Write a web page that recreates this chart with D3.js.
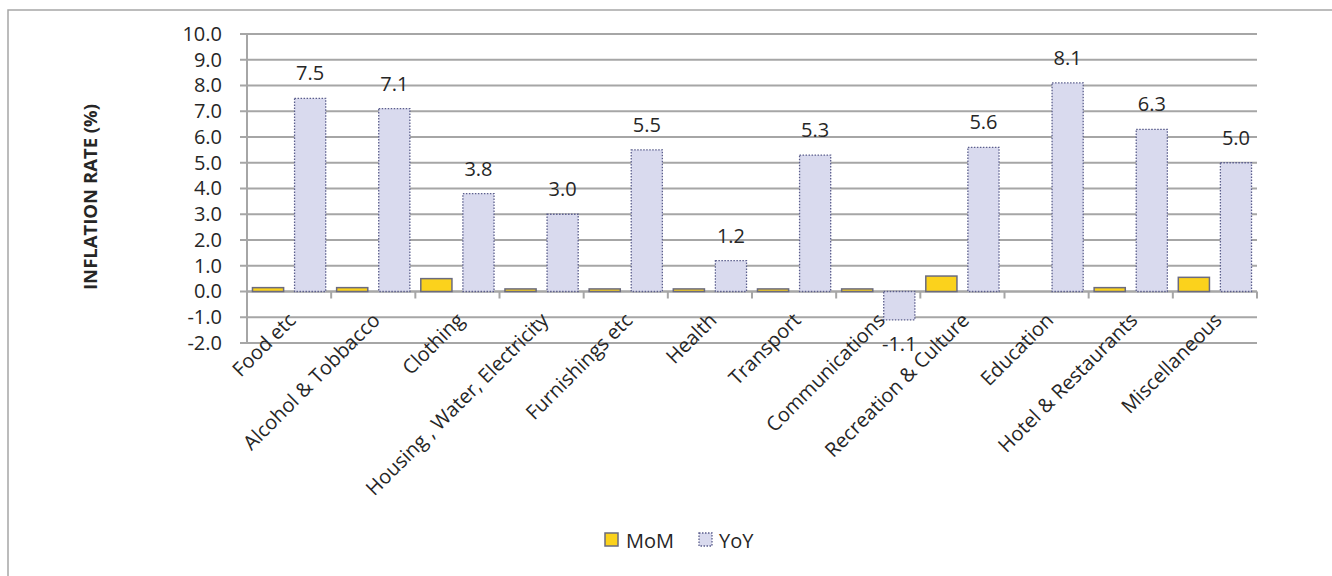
<!DOCTYPE html>
<html>
<head>
<meta charset="utf-8">
<script src="https://cdn.jsdelivr.net/npm/d3@7"></script>
<style>
  html, body { margin: 0; padding: 0; background: #fff; }
  svg { display: block; }
  text { font-family: "Open Sans", "Noto Sans", sans-serif; fill: #262626; }
</style>
</head>
<body>
<svg id="chart" width="1332" height="576"></svg>
<script>
const categories = ["Food etc", "Alcohol & Tobbacco", "Clothing", "Housing , Water, Electricity",
  "Furnishings etc", "Health", "Transport", "Communications", "Recreation & Culture",
  "Education", "Hotel & Restaurants", "Miscellaneous"];
const momValues = [0.15, 0.15, 0.5, 0.1, 0.1, 0.1, 0.1, 0.1, 0.6, 0.0, 0.15, 0.55];
const yoyValues = [7.5, 7.1, 3.8, 3.0, 5.5, 1.2, 5.3, -1.1, 5.6, 8.1, 6.3, 5.0];
const yTicks = [-2, -1, 0, 1, 2, 3, 4, 5, 6, 7, 8, 9, 10];
const seriesNames = ["MoM", "YoY"];

const locale = d3.formatLocale({decimal: ".", thousands: ",", grouping: [3], currency: ["", ""], minus: "-"});
const fmt = locale.format(".1f");

const svg = d3.select("#chart");
const pLeft = 247, pRight = 1257, pTop = 34, pBottom = 343;

// outer frame (left + top visible)
svg.append("path").attr("d", "M8,600 L8,10 L1340,10")
  .attr("fill", "none").attr("stroke", "#a6a6a6").attr("stroke-width", 1.5);

const y = d3.scaleLinear().domain([-2, 10]).range([pBottom, pTop]);
const x = d3.scaleBand().domain(categories).range([pLeft, pRight]).padding(0);
const sub = d3.scaleBand().domain(seriesNames).range([0, x.bandwidth()]).paddingInner(0.26).paddingOuter(0.13);

// gridlines
svg.append("g").selectAll("line").data(yTicks).join("line")
  .attr("x1", pLeft - 7).attr("x2", pRight)
  .attr("y1", d => y(d)).attr("y2", d => y(d))
  .attr("stroke", "#a6a6a6").attr("stroke-width", 2);

// y axis via d3
const yAxis = d3.axisLeft(y).tickValues(yTicks).tickFormat(fmt).tickSize(0).tickPadding(25);
const yg = svg.append("g").attr("transform", `translate(${pLeft},0)`).call(yAxis);
yg.select(".domain").remove();
yg.selectAll("text").style("font-size", "20px").style("font-family", '"Open Sans", sans-serif').attr("fill", "#262626");
svg.append("line").attr("x1", pLeft).attr("x2", pLeft).attr("y1", pTop).attr("y2", pBottom)
  .attr("stroke", "#a6a6a6").attr("stroke-width", 2);

// zero axis + category ticks
const y0 = y(0);
svg.append("line").attr("x1", pLeft).attr("x2", pRight).attr("y1", y0).attr("y2", y0)
  .attr("stroke", "#a6a6a6").attr("stroke-width", 2);
const bounds = categories.map(c => x(c)).concat([pRight]);
svg.append("g").selectAll("line").data(bounds).join("line")
  .attr("x1", d => d).attr("x2", d => d).attr("y1", y0).attr("y2", y0 + 7)
  .attr("stroke", "#a6a6a6").attr("stroke-width", 2);

// bars
const g = svg.append("g");
categories.forEach((c, i) => {
  const m = momValues[i];
  if (m !== 0) {
    g.append("rect")
      .attr("x", x(c) + sub("MoM")).attr("width", sub.bandwidth())
      .attr("y", y(Math.max(0, m))).attr("height", Math.abs(y(m) - y(0)))
      .attr("fill", "#fbd21c").attr("stroke", "#6b6b7e").attr("stroke-width", 1.5);
  }
  const v = yoyValues[i];
  g.append("rect")
    .attr("x", x(c) + sub("YoY")).attr("width", sub.bandwidth())
    .attr("y", y(Math.max(0, v))).attr("height", Math.abs(y(v) - y(0)))
    .attr("fill", "#d9daee").attr("stroke", "#5b5e8c").attr("stroke-width", 1.3)
    .attr("stroke-dasharray", "1.5,1.5");
  g.append("text")
    .attr("x", x(c) + sub("YoY") + sub.bandwidth() / 2)
    .attr("y", v >= 0 ? y(v) - 18 : y(v) + 31)
    .attr("text-anchor", "middle")
    .style("font-size", "20px")
    .text(fmt(v));
});

// x labels
svg.append("g").selectAll("text").data(categories).join("text")
  .attr("transform", d => `translate(${x(d) + x.bandwidth() / 2 + 8},${y0 + 30}) rotate(-45)`)
  .attr("text-anchor", "end")
  .style("font-size", "20px")
  .text(d => d);

// y title
svg.append("text")
  .attr("transform", `translate(97,197) rotate(-90)`)
  .attr("text-anchor", "middle")
  .style("font-size", "18.5px").style("font-weight", "bold")
  .text("INFLATION RATE (%)");

// legend
const lg = svg.append("g");
lg.append("rect").attr("x", 605).attr("y", 533).attr("width", 13).attr("height", 13)
  .attr("fill", "#fbd21c").attr("stroke", "#6b6b7e").attr("stroke-width", 1.5);
lg.append("text").attr("x", 626).attr("y", 548).style("font-size", "20px").text(seriesNames[0]);
lg.append("rect").attr("x", 699).attr("y", 533).attr("width", 13).attr("height", 13)
  .attr("fill", "#d9daee").attr("stroke", "#5b5e8c").attr("stroke-width", 1.3).attr("stroke-dasharray", "1.5,1.5");
lg.append("text").attr("x", 719).attr("y", 548).style("font-size", "20px").text(seriesNames[1]);
</script>
</body>
</html>
